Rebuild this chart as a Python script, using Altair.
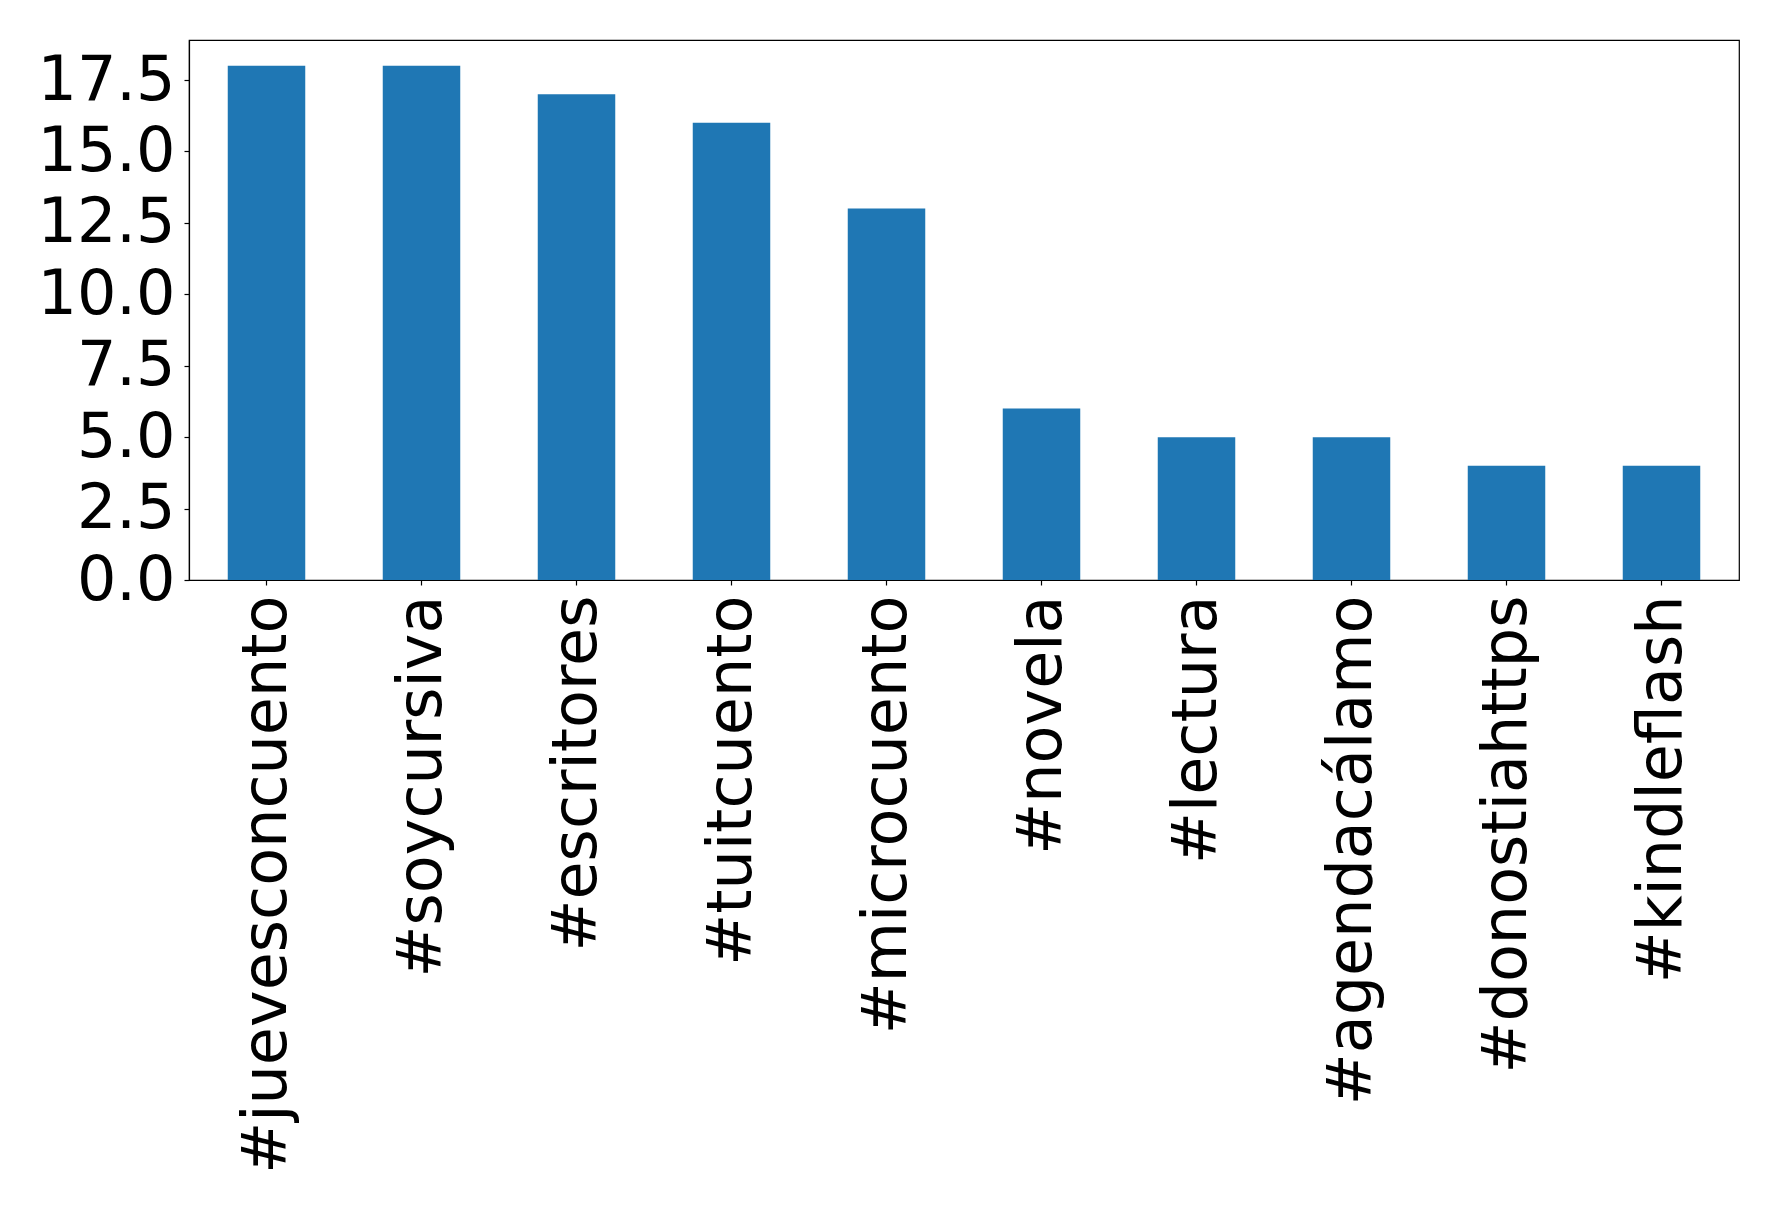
import altair as alt
import pandas as pd

hashtags = ["#juevesconcuento", "#soycursiva", "#escritores", "#tuitcuento", "#microcuento",
            "#novela", "#lectura", "#agendacálamo", "#donostiahttps", "#kindleflash"]
counts = [18, 18, 17, 16, 13, 6, 5, 5, 4, 4]
y_ticks = [0, 2.5, 5, 7.5, 10, 12.5, 15, 17.5]

df = pd.DataFrame({"tag": hashtags, "count": counts})

FONT = "DejaVu Sans"
FS = 62

chart = alt.Chart(df).mark_bar(color="#1f77b4").encode(
    x=alt.X("tag:N", sort=hashtags, title=None,
            scale=alt.Scale(paddingInner=0.5, paddingOuter=0.25),
            axis=alt.Axis(labelAngle=-90, labelFontSize=FS, labelFont=FONT, labelColor="black",
                          tickSize=5, tickColor="black", domainColor="black", labelPadding=10,
                          labelLimit=1000, grid=False)),
    y=alt.Y("count:Q", title=None,
            scale=alt.Scale(domain=[0, 18.9], nice=False, zero=True),
            axis=alt.Axis(values=y_ticks, format=".1f", labelFontSize=FS, labelFont=FONT,
                          labelColor="black", tickSize=5, tickColor="black", domainColor="black",
                          labelPadding=9, grid=False)),
).properties(
    width=1550, height=540,
    autosize=alt.AutoSizeParams(type="none"),
    padding={"left": 181, "top": 32, "right": 30, "bottom": 620},
).configure_view(stroke="black", strokeWidth=1.2).configure_axis(domainWidth=1.2, tickWidth=1.2)

chart.save("out.html", embed_options={"renderer": "svg", "actions": False})
